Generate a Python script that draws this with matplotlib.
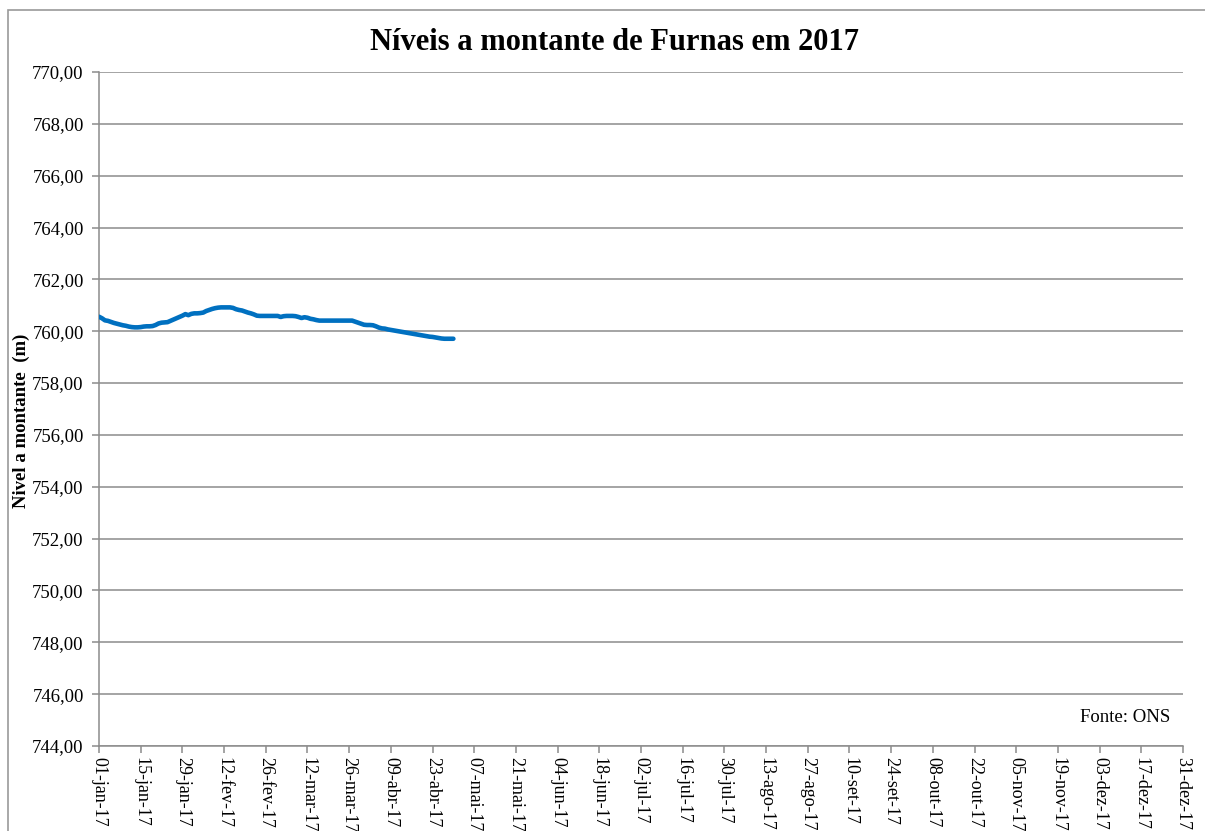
import numpy as np
import matplotlib
matplotlib.use('Agg')
import matplotlib.pyplot as plt
from matplotlib.patches import Rectangle
import datetime as dt

## data: daily upstream level (m), 01-jan-17 .. 30-abr-17
start = dt.date(2017, 1, 1)
nivel = [760.56, 760.50, 760.42, 760.40, 760.36, 760.32, 760.29, 760.26, 760.23, 760.21,
         760.18, 760.16, 760.15, 760.15, 760.16, 760.18, 760.19, 760.19, 760.20, 760.24,
         760.30, 760.33, 760.34, 760.35, 760.40, 760.45, 760.50, 760.55, 760.60, 760.66,
         760.62, 760.67, 760.69, 760.69, 760.70, 760.72, 760.78, 760.82, 760.86, 760.89,
         760.91, 760.92, 760.92, 760.92, 760.92, 760.90, 760.85, 760.82, 760.80, 760.76,
         760.72, 760.69, 760.65, 760.60, 760.59, 760.59, 760.59, 760.59, 760.59, 760.59,
         760.59, 760.55, 760.58, 760.59, 760.59, 760.59, 760.58, 760.55, 760.51, 760.54,
         760.52, 760.48, 760.46, 760.43, 760.41, 760.41, 760.41, 760.41, 760.41, 760.41,
         760.41, 760.41, 760.41, 760.41, 760.41, 760.41, 760.37, 760.33, 760.29, 760.25,
         760.24, 760.24, 760.23, 760.19, 760.14, 760.11, 760.10, 760.07, 760.05, 760.03,
         760.01, 759.99, 759.97, 759.95, 759.93, 759.91, 759.89, 759.87, 759.85, 759.83,
         759.81, 759.79, 759.78, 759.76, 759.74, 759.72, 759.71, 759.71, 759.71, 759.71]
datas = [start + dt.timedelta(days=i) for i in range(len(nivel))]

meses = ['jan', 'fev', 'mar', 'abr', 'mai', 'jun', 'jul', 'ago', 'set', 'out', 'nov', 'dez']
ticks = [start + dt.timedelta(days=14 * k) for k in range(27)]
tick_labels = ['%02d-%s-17' % (d.day, meses[d.month - 1]) for d in ticks]

plt.rcParams['font.family'] = ['Liberation Serif', 'DejaVu Serif']

fig = plt.figure(figsize=(12.05, 8.31), dpi=100)
ax = fig.add_axes([99 / 1205, 85 / 831, 1084 / 1205, 674 / 831])

# outer chart border
fig.patches.append(Rectangle((8 / 1205, -0.1), 1.2, (821 / 831) + 0.1,
                             transform=fig.transFigure, fill=False,
                             edgecolor='#9a9a9a', linewidth=1.2))

ax.plot(datas, nivel, color='#0070c0', linewidth=3.3, solid_capstyle='round', zorder=3)

ax.set_xlim(ticks[0], ticks[-1])
ax.set_ylim(744, 770)
ax.set_yticks(np.arange(744, 771, 2))
ax.set_yticklabels(['%d,00' % v for v in range(744, 771, 2)], fontsize=13.5)
ax.set_xticks(ticks)
ax.set_xticklabels(tick_labels, rotation=270, fontsize=13, va='top', ha='center')

ax.grid(axis='y', color='#8c8c8c', linewidth=1.1)
ax.set_axisbelow(True)
for s in ['top', 'right']:
    ax.spines[s].set_visible(False)
for s in ['left', 'bottom']:
    ax.spines[s].set_color('#8c8c8c')
    ax.spines[s].set_linewidth(1.1)
ax.tick_params(axis='both', color='#8c8c8c', length=5, width=1.1)
ax.tick_params(axis='y', pad=6)
ax.tick_params(axis='x', pad=3)

ax.set_ylabel('Nivel a montante  (m)', fontsize=13.5, fontweight='bold')
ax.yaxis.set_label_coords(-0.0635, 0.482)
fig.text(614 / 1205, 1 - 42 / 831, 'Níveis a montante de Furnas em 2017',
         ha='center', va='center', fontsize=22, fontweight='bold')
ax.text(0.988, 0.043, 'Fonte: ONS', transform=ax.transAxes, ha='right', va='center',
        fontsize=13.5)

plt.savefig('out.png', dpi=100)
